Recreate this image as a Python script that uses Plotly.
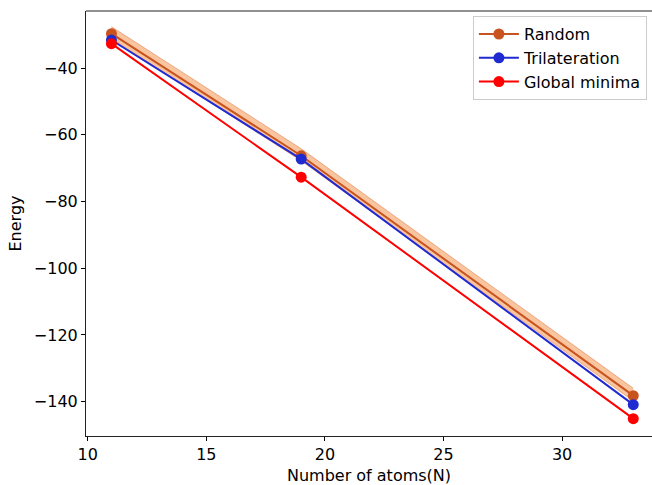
import plotly.graph_objects as go

# Cluster sizes and the energies found by each method
n_atoms = [11, 19, 33]
random_energy = [-29.7, -66.3, -138.2]
random_upper = [-27.6, -64.2, -136.0]
random_lower = [-31.2, -67.8, -139.8]
trilateration_energy = [-31.6, -67.3, -140.9]
global_minima_energy = [-32.7, -72.7, -145.1]

x_ticks = [10, 15, 20, 25, 30]
y_ticks = [-40, -60, -80, -100, -120, -140]

FONT = "DejaVu Sans"
C_RANDOM = "#c9531f"
C_TRI = "#1f2bd1"
C_GM = "#ff0000"

fig = go.Figure()

# spread of the random starts
fig.add_trace(go.Scatter(
    x=n_atoms, y=random_lower, mode="lines",
    line=dict(color="rgba(226,130,80,0.6)", width=1),
    showlegend=False, hoverinfo="skip"))
fig.add_trace(go.Scatter(
    x=n_atoms, y=random_upper, mode="lines", fill="tonexty",
    fillcolor="rgba(245,158,95,0.6)",
    line=dict(color="rgba(226,130,80,0.6)", width=1),
    showlegend=False, hoverinfo="skip"))

marker_size = 11
series = [
    ("Random", random_energy, C_RANDOM),
    ("Trilateration", trilateration_energy, C_TRI),
    ("Global minima", global_minima_energy, C_GM),
]
for name, values, color in series:
    fig.add_trace(go.Scatter(
        x=n_atoms, y=values, mode="lines+markers", name=name,
        legendgroup=name,
        line=dict(color=color, width=2),
        marker=dict(color=color, size=marker_size)))

axis_common = dict(
    showgrid=False, zeroline=False, ticks="outside", ticklen=4,
    tickwidth=1, tickcolor="#000", showline=True, linecolor="#222",
    linewidth=1, tickfont=dict(family=FONT, size=16, color="#000"),
)

fig.update_layout(
    width=652, height=485,
    margin=dict(l=86, r=0, t=11, b=49),
    paper_bgcolor="white", plot_bgcolor="white",
    font=dict(family=FONT, size=16, color="#000"),
    xaxis=dict(range=[9.928, 33.79], tickvals=x_ticks,
               title=dict(text="Number of atoms(N)", standoff=6,
                          font=dict(family=FONT, size=16)),
               **axis_common),
    yaxis=dict(range=[-150.3, -22.9], tickvals=y_ticks,
               title=dict(text="Energy", standoff=8,
                          font=dict(family=FONT, size=16)),
               **axis_common),
    legend=dict(x=0.991, y=0.988, xanchor="right", yanchor="top",
                bgcolor="rgba(255,255,255,0.8)", bordercolor="#cccccc",
                borderwidth=1, font=dict(family=FONT, size=16),
                traceorder="normal", tracegroupgap=1,
                itemwidth=40),
    showlegend=True,
)

# top spine
fig.add_shape(type="line", xref="paper", yref="paper", x0=0, x1=1, y0=1, y1=1,
              line=dict(color="#222", width=1))

fig.write_html("out.html")
